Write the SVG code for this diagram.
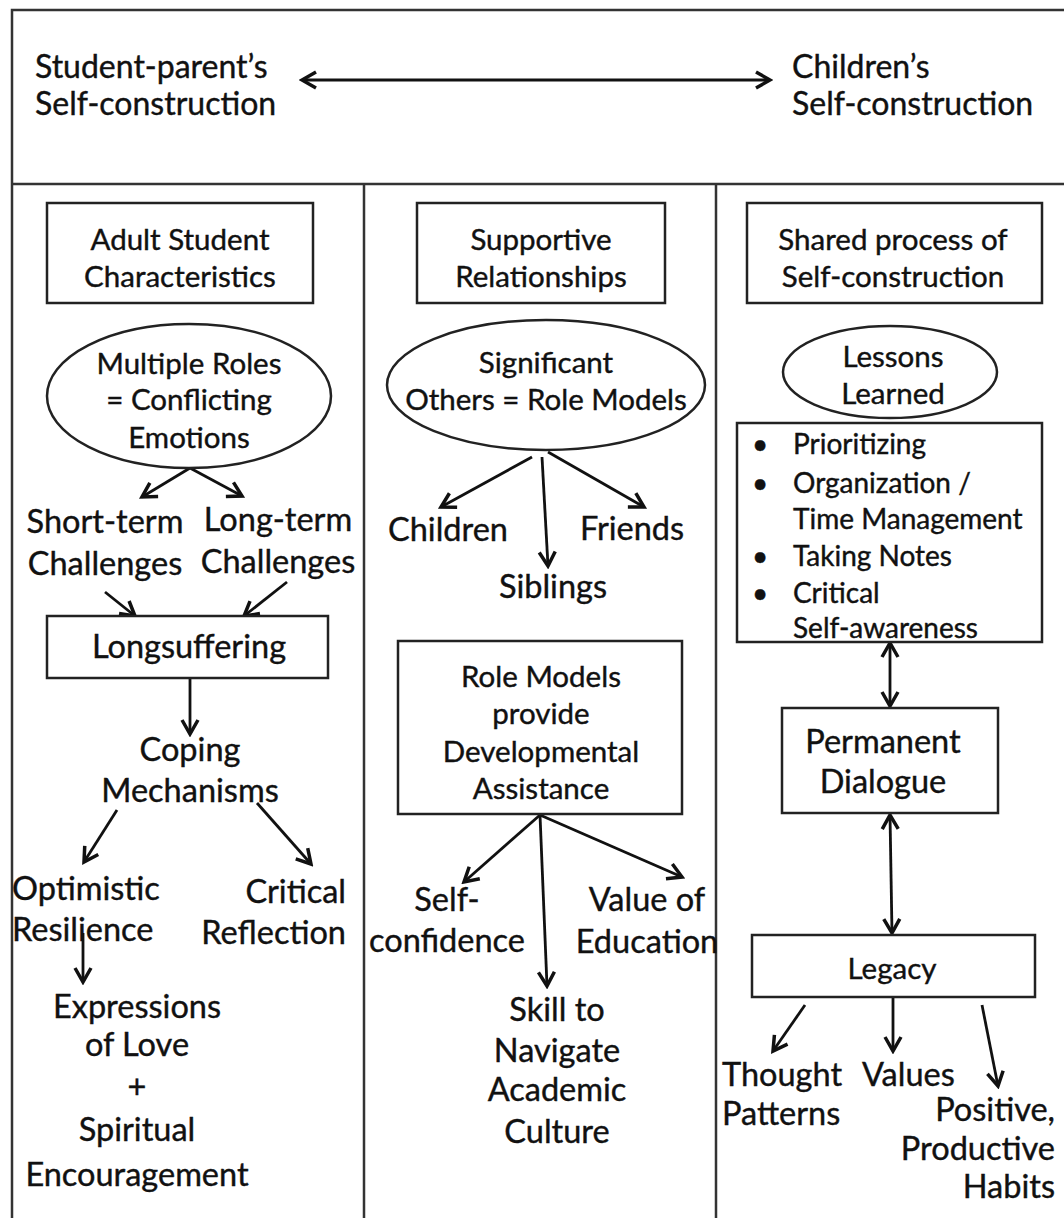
<svg xmlns="http://www.w3.org/2000/svg" width="1064" height="1218" viewBox="0 0 1064 1218">
<style>
.t{font-family:Lato,"Liberation Sans",sans-serif;font-size:32.5px;fill:#111;stroke:#111;stroke-width:0.4;text-anchor:middle;dominant-baseline:central}
.b{font-size:29.5px}
.l{font-size:28px}
.h{font-size:32px}
.s{text-anchor:start}
.e{text-anchor:end}
.frame{fill:none;stroke:#333;stroke-width:2.5}
.box{fill:#fff;stroke:#222;stroke-width:2.5}
.c{fill:none;stroke:#111;stroke-width:2.8;marker-end:url(#ah)}
.d{fill:none;stroke:#111;stroke-width:2.8;marker-end:url(#ah);marker-start:url(#ah)}
</style>
<defs>
<marker id="ah" viewBox="0 0 20 20" refX="17" refY="10" markerWidth="20" markerHeight="20" markerUnits="userSpaceOnUse" orient="auto-start-reverse">
<path d="M3,2 L17,10 L3,18" fill="none" stroke="#111" stroke-width="3.5"/>
</marker>
</defs>
<rect width="1064" height="1218" fill="#fff"/>
<g id="frame">
<path class="frame" d="M12,1218 V10 H1064 M12,184 H1064 M364,184 V1218 M716,184 V1218"/>
</g>
<g id="connectors">
<line class="d" x1="302" y1="80" x2="770" y2="80"/>
<line class="c" x1="190" y1="468" x2="142" y2="497"/>
<line class="c" x1="190" y1="468" x2="242" y2="496"/>
<line class="c" x1="105" y1="592" x2="135" y2="616"/>
<line class="c" x1="287" y1="582" x2="244" y2="616"/>
<line class="c" x1="190" y1="678" x2="190" y2="734"/>
<line class="c" x1="117" y1="810" x2="84" y2="862"/>
<line class="c" x1="257" y1="803" x2="311" y2="864"/>
<line class="c" x1="83" y1="933" x2="83" y2="982"/>
<line class="c" x1="532" y1="457" x2="441" y2="507"/>
<line class="c" x1="542" y1="457" x2="548" y2="566"/>
<line class="c" x1="548" y1="452" x2="644" y2="507"/>
<line class="c" x1="540" y1="815" x2="464" y2="882"/>
<line class="c" x1="540" y1="815" x2="547" y2="986"/>
<line class="c" x1="540" y1="815" x2="682" y2="877"/>
<line class="d" x1="890" y1="643" x2="890" y2="706"/>
<line class="d" x1="890" y1="815" x2="892" y2="933"/>
<line class="c" x1="805" y1="1005" x2="773" y2="1051"/>
<line class="c" x1="893" y1="998" x2="893" y2="1051"/>
<line class="c" x1="982" y1="1005" x2="998" y2="1086"/>
</g>
<g id="top-left"><text class="t h s" x="35" y="65">Student-parent’s</text><text class="t h s" x="35" y="102">Self-construction</text></g>
<g id="top-right"><text class="t h s" x="792" y="65">Children’s</text><text class="t h s" x="792" y="102">Self-construction</text></g>
<g id="adult-student"><rect class="box" x="47" y="203" width="266" height="100"/><text class="t b" x="180" y="238">Adult Student</text><text class="t b" x="180" y="275">Characteristics</text></g>
<g id="multiple-roles"><ellipse class="box" cx="189" cy="396" rx="142" ry="72"/><text class="t b" x="189" y="362">Multiple Roles</text><text class="t b" x="189" y="398">= Conflicting</text><text class="t b" x="189" y="436">Emotions</text></g>
<g id="short-term"><text class="t" x="105" y="520">Short-term</text><text class="t" x="105" y="562">Challenges</text></g>
<g id="long-term"><text class="t" x="278" y="518">Long-term</text><text class="t" x="278" y="560">Challenges</text></g>
<g id="longsuffering"><rect class="box" x="47" y="616" width="281" height="62"/><text class="t" x="189" y="645">Longsuffering</text></g>
<g id="coping"><text class="t" x="190" y="748">Coping</text><text class="t" x="190" y="789">Mechanisms</text></g>
<g id="optimistic"><text class="t s" x="12" y="887">Optimistic</text><text class="t s" x="12" y="928">Resilience</text></g>
<g id="critical-reflection"><text class="t e" x="346" y="890">Critical</text><text class="t e" x="346" y="931">Reflection</text></g>
<g id="expressions"><text class="t" x="137" y="1005">Expressions</text><text class="t" x="137" y="1043">of Love</text><text class="t" x="137" y="1085">+</text><text class="t" x="137" y="1128">Spiritual</text><text class="t" x="137" y="1173">Encouragement</text></g>
<g id="supportive"><rect class="box" x="417" y="203" width="248" height="100"/><text class="t b" x="541" y="238">Supportive</text><text class="t b" x="541" y="275">Relationships</text></g>
<g id="significant"><ellipse class="box" cx="546" cy="385" rx="159" ry="65"/><text class="t b" x="546" y="361">Significant</text><text class="t b" x="546" y="398">Others = Role Models</text></g>
<g id="children"><text class="t" x="448" y="528">Children</text></g>
<g id="friends"><text class="t" x="632" y="527">Friends</text></g>
<g id="siblings"><text class="t" x="553" y="585">Siblings</text></g>
<g id="role-models"><rect class="box" x="398" y="641" width="284" height="173"/><text class="t b" x="541" y="675">Role Models</text><text class="t b" x="541" y="712">provide</text><text class="t b" x="541" y="750">Developmental</text><text class="t b" x="541" y="787">Assistance</text></g>
<g id="self-confidence"><text class="t" x="447" y="898">Self-</text><text class="t" x="447" y="939">confidence</text></g>
<g id="value-education"><text class="t" x="647" y="898">Value of</text><text class="t" x="647" y="940">Education</text></g>
<g id="skill"><text class="t" x="557" y="1008">Skill to</text><text class="t" x="557" y="1049">Navigate</text><text class="t" x="557" y="1088">Academic</text><text class="t" x="557" y="1130">Culture</text></g>
<g id="shared"><rect class="box" x="747" y="203" width="295" height="100"/><text class="t b" x="893" y="238">Shared process of</text><text class="t b" x="893" y="275">Self-construction</text></g>
<g id="lessons"><ellipse class="box" cx="890" cy="372" rx="107" ry="46"/><text class="t b" x="893" y="355">Lessons</text><text class="t b" x="893" y="392">Learned</text></g>
<g id="lessons-list"><rect class="box" x="737" y="423" width="305" height="219"/>
<text class="t l s" x="752" y="443">•</text><text class="t l s" x="793" y="443">Prioritizing</text>
<text class="t l s" x="752" y="482">•</text><text class="t l s" x="793" y="482">Organization /</text>
<text class="t l s" x="793" y="518">Time Management</text>
<text class="t l s" x="752" y="555">•</text><text class="t l s" x="793" y="555">Taking Notes</text>
<text class="t l s" x="752" y="592">•</text><text class="t l s" x="793" y="592">Critical</text>
<text class="t l s" x="793" y="627">Self-awareness</text></g>
<g id="permanent"><rect class="box" x="782" y="708" width="216" height="105"/><text class="t" x="883" y="740">Permanent</text><text class="t" x="883" y="780">Dialogue</text></g>
<g id="legacy"><rect class="box" x="752" y="935" width="283" height="62"/><text class="t b" x="892" y="967">Legacy</text></g>
<g id="thought"><text class="t s" x="722" y="1073">Thought</text><text class="t s" x="722" y="1112">Patterns</text></g>
<g id="values"><text class="t s" x="862" y="1073">Values</text></g>
<g id="positive"><text class="t e" x="1055" y="1108">Positive,</text><text class="t e" x="1055" y="1147">Productive</text><text class="t e" x="1055" y="1185">Habits</text></g>
</svg>
